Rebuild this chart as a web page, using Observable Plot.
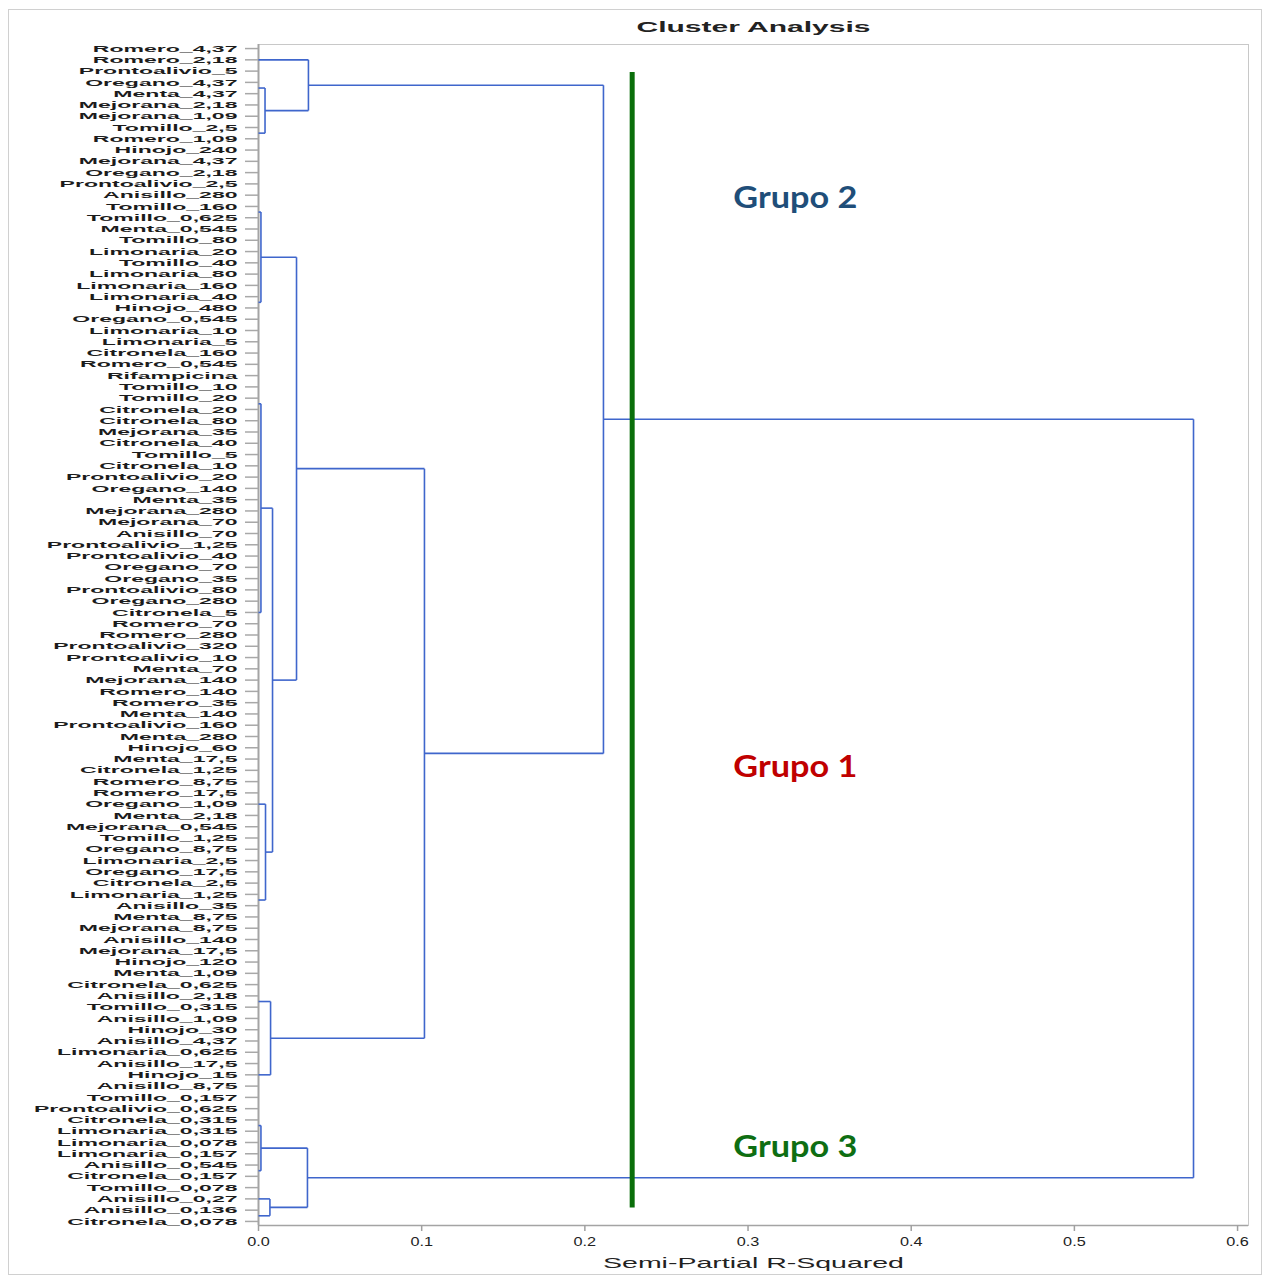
<!DOCTYPE html>
<html><head><meta charset="utf-8">
<script src="https://cdn.jsdelivr.net/npm/d3@7"></script>
<script src="https://cdn.jsdelivr.net/npm/@observablehq/plot@0.6"></script>
<style>
body{margin:0;background:#fff;}
#wrap{position:relative;width:1268px;height:1277px;overflow:hidden;background:#fff;}
#border{position:absolute;left:8px;top:9px;width:1254px;height:1266px;border:1px solid #d0d0d0;box-sizing:border-box;pointer-events:none;}
#wrap svg{position:absolute;left:0;top:0;}
</style></head><body><div id="wrap"><div id="border"></div></div>
<script>
// ---- data ----
const leaves = [
"Romero_4,37","Romero_2,18","Prontoalivio_5","Oregano_4,37","Menta_4,37","Mejorana_2,18","Mejorana_1,09","Tomillo_2,5",
"Romero_1,09","Hinojo_240","Mejorana_4,37","Oregano_2,18","Prontoalivio_2,5","Anisillo_280","Tomillo_160","Tomillo_0,625",
"Menta_0,545","Tomillo_80","Limonaria_20","Tomillo_40","Limonaria_80","Limonaria_160","Limonaria_40","Hinojo_480",
"Oregano_0,545","Limonaria_10","Limonaria_5","Citronela_160","Romero_0,545","Rifampicina","Tomillo_10","Tomillo_20",
"Citronela_20","Citronela_80","Mejorana_35","Citronela_40","Tomillo_5","Citronela_10","Prontoalivio_20","Oregano_140",
"Menta_35","Mejorana_280","Mejorana_70","Anisillo_70","Prontoalivio_1,25","Prontoalivio_40","Oregano_70","Oregano_35",
"Prontoalivio_80","Oregano_280","Citronela_5","Romero_70","Romero_280","Prontoalivio_320","Prontoalivio_10","Menta_70",
"Mejorana_140","Romero_140","Romero_35","Menta_140","Prontoalivio_160","Menta_280","Hinojo_60","Menta_17,5",
"Citronela_1,25","Romero_8,75","Romero_17,5","Oregano_1,09","Menta_2,18","Mejorana_0,545","Tomillo_1,25","Oregano_8,75",
"Limonaria_2,5","Oregano_17,5","Citronela_2,5","Limonaria_1,25","Anisillo_35","Menta_8,75","Mejorana_8,75","Anisillo_140",
"Mejorana_17,5","Hinojo_120","Menta_1,09","Citronela_0,625","Anisillo_2,18","Tomillo_0,315","Anisillo_1,09","Hinojo_30",
"Anisillo_4,37","Limonaria_0,625","Anisillo_17,5","Hinojo_15","Anisillo_8,75","Tomillo_0,157","Prontoalivio_0,625","Citronela_0,315",
"Limonaria_0,315","Limonaria_0,078","Limonaria_0,157","Anisillo_0,545","Citronela_0,157","Tomillo_0,078","Anisillo_0,27","Anisillo_0,136",
"Citronela_0,078"
];
// merges: [first leaf, first leaf of second child, last leaf, semi-partial R-squared]
const mergeNodes = [
  [0, 94, 104, 0.573],
  [0, 11, 93, 0.2114],
  [0, 3, 10, 0.0306],
  [3, 5, 10, 0.0040],
  [11, 81, 93, 0.1017],
  [11, 27, 80, 0.0233],
  [11, 19, 26, 0.0015],
  [27, 64, 80, 0.0086],
  [27, 37, 63, 0.0015],
  [64, 71, 80, 0.0043],
  [81, 89, 93, 0.0074],
  [94, 102, 104, 0.0300],
  [94, 98, 101, 0.0015],
  [102, 103, 104, 0.0070]
];
const xTicks = [0, 0.1, 0.2, 0.3, 0.4, 0.5, 0.6];
const xDomain = [0, 0.6067];
const yDomain = [-0.36, 104.36];
const cutHeight = 0.229;
const cutSpan = [2.13, 102.8];
const groupLabels = ["Grupo 2", "Grupo 1", "Grupo 3"];
const groupLabelLeaf = [13.3, 63.7, 97.45];
const groupColors = ["#1f4e79", "#c00000", "#0e6e12"];
const groupLabelX = 0.291;
const titleText = "Cluster Analysis";
const xLabelText = "Semi-Partial R-Squared";

// ---- build dendrogram segments ----
const nodeMap = new Map(mergeNodes.map(n => [n[0] + "-" + n[2], n]));
const memo = new Map();
function pos(a, b) {
  const key = a + "-" + b;
  if (memo.has(key)) return memo.get(key);
  let r;
  const n = nodeMap.get(key);
  if (n) {
    const c1 = pos(n[0], n[1] - 1), c2 = pos(n[1], n[2]);
    r = {x: n[3], y: (c1.y + c2.y) / 2, c1, c2};
  } else {
    r = {x: 0, y: (a + b) / 2};
  }
  memo.set(key, r);
  return r;
}
const segments = [];
for (const n of mergeNodes) {
  const p = pos(n[0], n[2]);
  segments.push({x1: p.c1.x, y1: p.c1.y, x2: p.x, y2: p.c1.y});
  segments.push({x1: p.c2.x, y1: p.c2.y, x2: p.x, y2: p.c2.y});
  segments.push({x1: p.x, y1: p.c1.y, x2: p.x, y2: p.c2.y});
}
const groups = groupLabels.map((t, i) => ({text: t, y: groupLabelLeaf[i], color: groupColors[i], x: groupLabelX}));

const chart = Plot.plot({
  width: 1268, height: 1277,
  marginTop: 44, marginBottom: 52, marginLeft: 258, marginRight: 20,
  x: {domain: xDomain},
  y: {domain: yDomain, reverse: true},
  style: {fontFamily: "'Liberation Sans', Arial, sans-serif", background: "transparent", color: "#222"},
  marks: [
    Plot.frame({stroke: "#c8c8c8"}),
    Plot.ruleX([0], {stroke: "#a4a4a4", strokeWidth: 2}),
    Plot.ruleY([yDomain[1]], {stroke: "#a4a4a4", strokeWidth: 1.5}),
    Plot.axisY({ticks: d3.range(leaves.length), tickFormat: i => leaves[i], tickSize: 13, tickPadding: 8,
      fontSize: 9.8, fontWeight: "bold", stroke: "#a8a8a8", strokeWidth: 1.5, fill: "#1c1c1c", label: null}),
    Plot.axisX({ticks: xTicks, tickFormat: d3.format(".1f"), tickSize: 6, tickPadding: 5, fontSize: 13,
      stroke: "#a0a0a0", strokeWidth: 1.5, fill: "#222", label: null}),
    Plot.link(segments, {x1: "x1", y1: "y1", x2: "x2", y2: "y2", stroke: "#3f66cc", strokeWidth: 1.6}),
    Plot.ruleX([{x: cutHeight, y1: cutSpan[0], y2: cutSpan[1]}], {x: "x", y1: "y1", y2: "y2", stroke: "#0a6e0a", strokeWidth: 5}),
    Plot.text(groups, {x: "x", y: "y", text: "text", fill: "color", textAnchor: "start", fontSize: 31,
      fontWeight: "bold", fontFamily: "Lato, 'Open Sans', sans-serif"}),
    Plot.text([titleText], {text: d => d, frameAnchor: "top", lineAnchor: "middle", dy: -17, fontSize: 15, fontWeight: "bold", fill: "#222"}),
    Plot.text([xLabelText], {text: d => d, frameAnchor: "bottom", lineAnchor: "middle", dy: 38, fontSize: 15, fill: "#222"})
  ]
});
document.getElementById("wrap").appendChild(chart);

// horizontal stretching of text to match the reference's wide lettering
const leafSet = new Set(leaves);
const tickSet = new Set(xTicks.map(d3.format(".1f")));
chart.querySelectorAll("text").forEach(t => {
  const s = t.textContent;
  const L = t.getComputedTextLength();
  let target = null;
  if (leafSet.has(s)) target = L * 1.92 * 12 / 9.8;
  else if (s === titleText) target = L * 2.0;
  else if (s === xLabelText) target = L * 1.9;
  else if (tickSet.has(s)) target = L * 1.25;
  else if (groupLabels.includes(s)) target = 124;
  if (target) {
    t.setAttribute("textLength", target);
    t.setAttribute("lengthAdjust", "spacingAndGlyphs");
  }
});
</script>
</body></html>
